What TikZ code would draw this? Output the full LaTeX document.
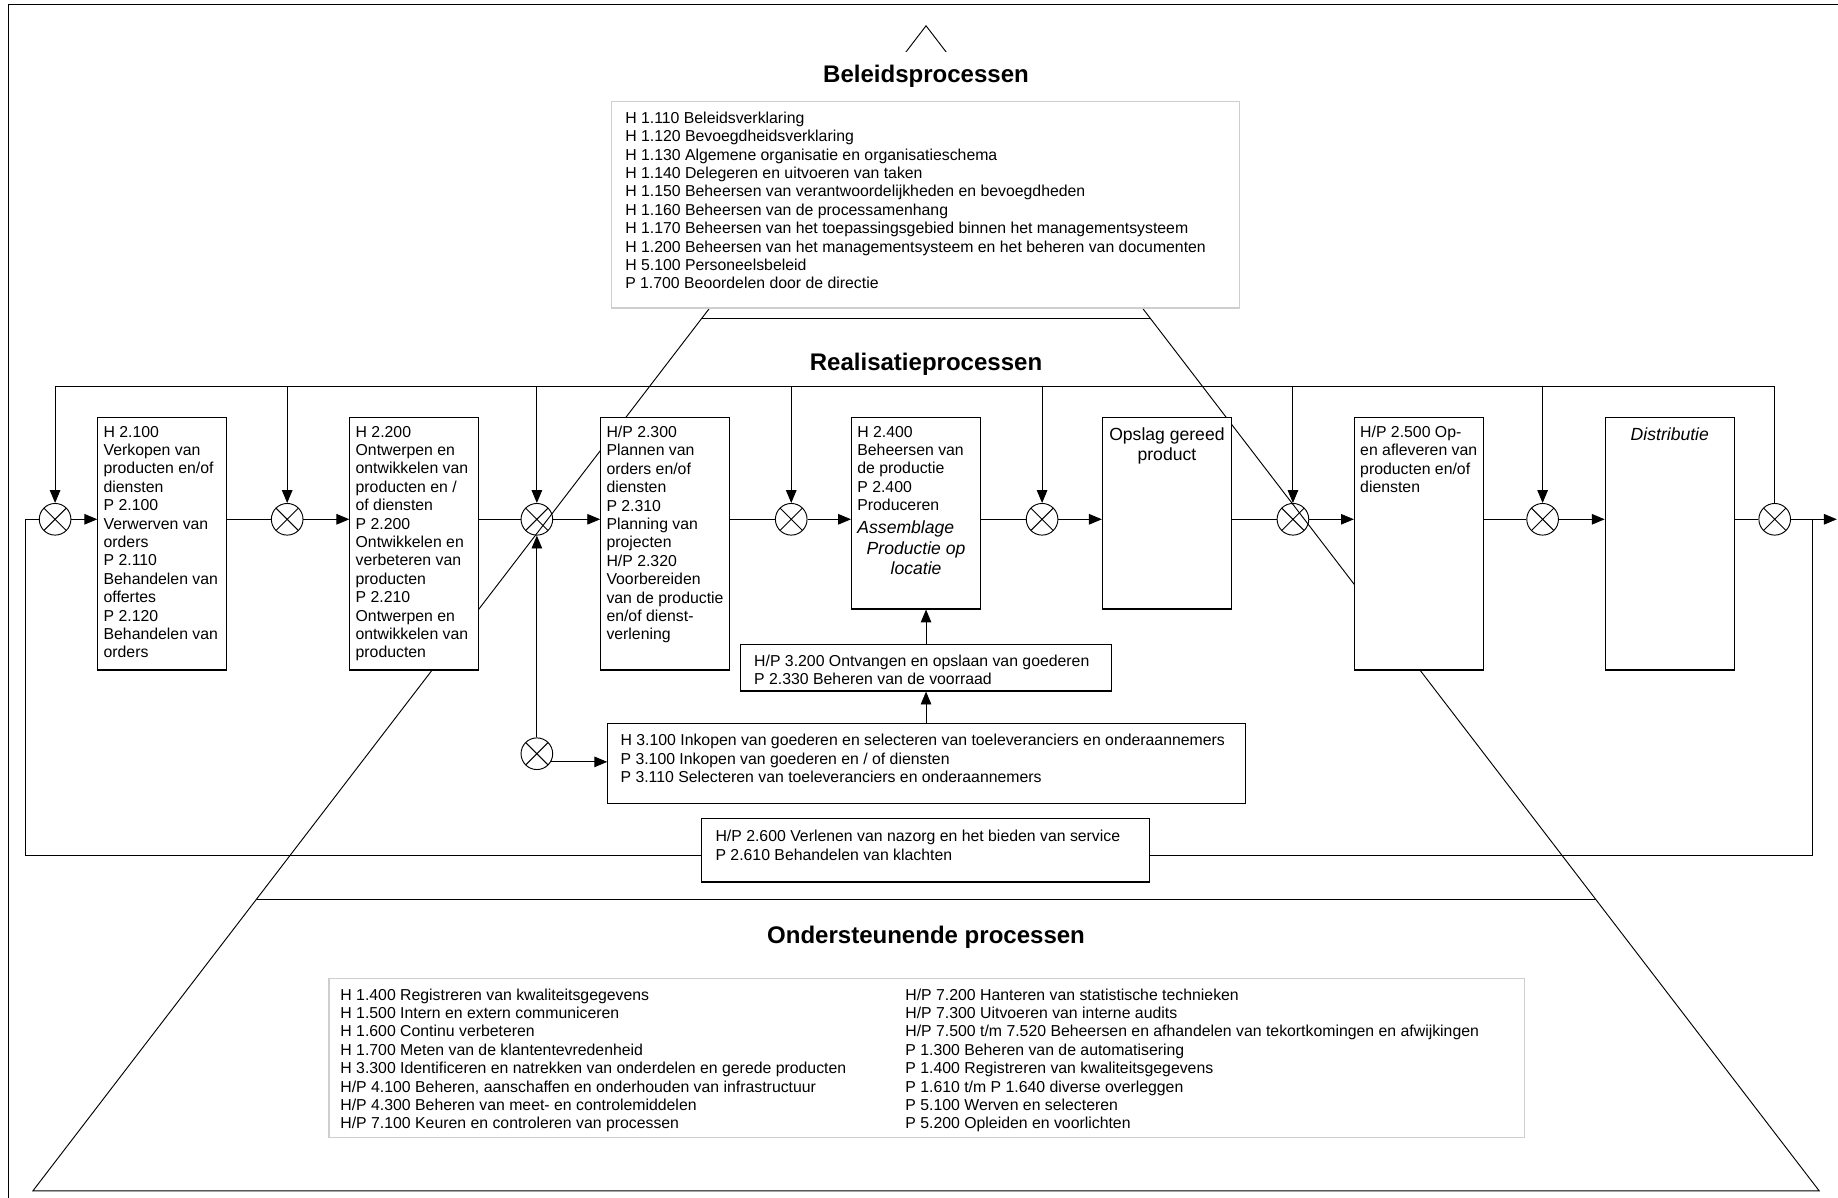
\documentclass[tikz,border=0pt]{standalone}
\usepackage{fontspec}
\setmainfont{Liberation Sans}
\usetikzlibrary{arrows.meta, positioning, calc}
\definecolor{boxgray}{RGB}{208,206,202}

\begin{document}
\begin{tikzpicture}[x=1pt, y=-1pt, line width=0.8pt,
  arr/.style={-{Triangle[length=11pt,width=9pt]}},
  flowbox/.style={draw, fill=white, line width=1pt, anchor=north west, minimum width=110pt, inner sep=0pt},
  listbox/.style={draw=boxgray, fill=white, line width=1.2pt, anchor=north west, inner sep=0pt},
  txt/.style={anchor=north west, align=left, inner sep=0pt, font=\fontsize{13.5}{15.7}\selectfont},
  bigtxt/.style={anchor=north, align=center, inner sep=0pt, font=\fontsize{15}{17.5}\selectfont},
  title/.style={font=\fontsize{20.5}{24}\selectfont\bfseries},
  mix/.style={circle, draw, minimum size=27pt, inner sep=0pt,
    path picture={\draw (path picture bounding box.north west) -- (path picture bounding box.south east)
      (path picture bounding box.north east) -- (path picture bounding box.south west);}}]

  \useasboundingbox (0,0) rectangle (1568,1022);

  % frame and pyramid
  \draw (7,1022) -- (7,4) -- (1568,4);
  \coordinate (apex) at (790,22);
  \coordinate (baseL) at (28,1016);
  \coordinate (baseR) at (1552,1016);
  \draw (baseL) -- (apex) -- (baseR) -- cycle;
  \draw ($(apex)!0.2515!(baseL)$) -- ($(apex)!0.2515!(baseR)$);
  \draw ($(apex)!0.7495!(baseL)$) -- ($(apex)!0.7495!(baseR)$);

  \node[title, fill=white, minimum height=42pt, inner xsep=2pt] (tbel) at (790,65) {Beleidsprocessen};
  \node[title] (treal) at (790,311) {Realisatieprocessen};
  \node[title] (tond) at (790,800) {Ondersteunende processen};

  % beleid
  \node[listbox, minimum width=536pt, minimum height=176pt] (bel) at (521,86) {};
  \node[txt, below right=9pt and 12pt of bel.north west] (belt) {H 1.110 Beleidsverklaring\\
    H 1.120 Bevoegdheidsverklaring\\
    H 1.130 Algemene organisatie en organisatieschema\\
    H 1.140 Delegeren en uitvoeren van taken\\
    H 1.150 Beheersen van verantwoordelijkheden en bevoegdheden\\
    H 1.160 Beheersen van de processamenhang\\
    H 1.170 Beheersen van het toepassingsgebied binnen het managementsysteem\\
    H 1.200 Beheersen van het managementsysteem en het beheren van documenten\\
    H 5.100 Personeelsbeleid\\
    P 1.700 Beoordelen door de directie};

  % realisatie
  \coordinate (busL) at (47,330);
  \coordinate (retL) at (22,730);
  \coordinate (retR) at (1546,730);
  \coordinate (out) at (1567,443);
  \foreach \n/\x in {c1/47, c2/245, c3/458, c4/675, c5/889, c6/1103, c7/1316, c8/1514}
    \node[mix] (\n) at (\x,443) {};
  \node[mix] (c9) at (458,643) {};

  \node[flowbox, minimum height=215pt] (b1) at (83,356) {};
  \node[flowbox, minimum height=215pt] (b2) at (298,356) {};
  \node[flowbox, minimum height=215pt] (b3) at (512,356) {};
  \node[flowbox, minimum height=163pt] (b4) at (726,356) {};
  \node[flowbox, minimum height=163pt] (b5) at (940,356) {};
  \node[flowbox, minimum height=215pt] (b6) at (1155,356) {};
  \node[flowbox, minimum height=215pt] (b7) at (1369,356) {};

  \node[txt, below right=7pt and 5pt of b1.north west] (b1t) {H 2.100\\Verkopen van\\producten en/of\\diensten\\P 2.100\\Verwerven van\\orders\\P 2.110\\Behandelen van\\offertes\\P 2.120\\Behandelen van\\orders};
  \node[txt, below right=7pt and 5pt of b2.north west] (b2t) {H 2.200\\Ontwerpen en\\ontwikkelen van\\producten en /\\of diensten\\P 2.200\\Ontwikkelen en\\verbeteren van\\producten\\P 2.210\\Ontwerpen en\\ontwikkelen van\\producten};
  \node[txt, below right=7pt and 5pt of b3.north west] (b3t) {H/P 2.300\\Plannen van\\orders en/of\\diensten\\P 2.310\\Planning van\\projecten\\H/P 2.320\\Voorbereiden\\van de productie\\en/of dienst-\\verlening};
  \node[txt, below right=7pt and 5pt of b4.north west] (b4t) {H 2.400\\Beheersen van\\de productie\\P 2.400\\Produceren};
  \node[bigtxt, font=\fontsize{15}{17.5}\selectfont\itshape] (b4i) at ($(b4.north |- b4t.south)+(0,8)$) {\makebox[100pt][l]{Assemblage}\\Productie op\\locatie};
  \node[bigtxt, below=8.5pt of b5.north] (b5t) {Opslag gereed\\product};
  \node[txt, below right=7pt and 5pt of b6.north west] (b6t) {H/P 2.500 Op-\\en afleveren van\\producten en/of\\diensten};
  \node[bigtxt, below=8.5pt of b7.north] (b7t) {\itshape Distributie};

  \node[flowbox, minimum width=317pt, minimum height=40pt] (b32) at (631,549) {};
  \node[txt, below right=9pt and 12pt of b32.north west] (b32t) {H/P 3.200 Ontvangen en opslaan van goederen\\P 2.330 Beheren van de voorraad};
  \node[flowbox, minimum width=544pt, minimum height=68pt] (b31) at (518,617) {};
  \node[txt, below right=9pt and 11pt of b31.north west] (b31t) {H 3.100 Inkopen van goederen en selecteren van toeleveranciers en onderaannemers\\P 3.100 Inkopen van goederen en / of diensten\\P 3.110 Selecteren van toeleveranciers en onderaannemers};
  \node[flowbox, minimum width=382pt, minimum height=54pt] (b26) at (598,698) {};
  \node[txt, below right=10pt and 12pt of b26.north west] (b26t) {H/P 2.600 Verlenen van nazorg en het bieden van service\\P 2.610 Behandelen van klachten};

  % connectors
  \draw (busL) -- (c8 |- busL);
  \foreach \n in {c1,c2,c3,c4,c5,c6,c7}
    \draw[arr] (\n |- busL) -- (\n.north);
  \draw (c8 |- busL) -- (c8.north);
  \draw[arr] (c1.east) -- (b1.west |- c1);
  \foreach \a/\n/\b in {b1/c2/b2, b2/c3/b3, b3/c4/b4, b4/c5/b5, b5/c6/b6, b6/c7/b7} {
    \draw (\a.east |- \n) -- (\n.west);
    \draw[arr] (\n.east) -- (\b.west |- \n);
  }
  \draw (b7.east |- c8) -- (c8.west);
  \draw[arr] (c8.east) -- (out);
  \draw (b26.west |- retL) -- (retL) |- (c1.west);
  \draw (b26.east |- retR) -- (retR) -- (retR |- out);
  \draw[arr] (c9.north) -- (c3.south);
  \draw[arr] (c9.-30) -- (c9.-30 -| b31.west);
  \draw[arr] (b31.north -| b32.north) -- (b32.south);
  \draw[arr] (b32.north) -- (b32.north |- b4.south);

  % ondersteunend
  \node[listbox, minimum width=1020pt, minimum height=136pt] (sup) at (280,834) {};
  \node[txt, below right=9pt and 10pt of sup.north west] (supl) {H 1.400 Registreren van kwaliteitsgegevens\\
    H 1.500 Intern en extern communiceren\\
    H 1.600 Continu verbeteren\\
    H 1.700 Meten van de klantentevredenheid\\
    H 3.300 Identificeren en natrekken van onderdelen en gerede producten\\
    H/P 4.100 Beheren, aanschaffen en onderhouden van infrastructuur\\
    H/P 4.300 Beheren van meet- en controlemiddelen\\
    H/P 7.100 Keuren en controleren van processen};
  \node[txt, below right=9pt and 492pt of sup.north west] (supr) {H/P 7.200 Hanteren van statistische technieken\\
    H/P 7.300 Uitvoeren van interne audits\\
    H/P 7.500 t/m 7.520 Beheersen en afhandelen van tekortkomingen en afwijkingen\\
    P 1.300 Beheren van de automatisering\\
    P 1.400 Registreren van kwaliteitsgegevens\\
    P 1.610 t/m P 1.640 diverse overleggen\\
    P 5.100 Werven en selecteren\\
    P 5.200 Opleiden en voorlichten};
\end{tikzpicture}
\end{document}
